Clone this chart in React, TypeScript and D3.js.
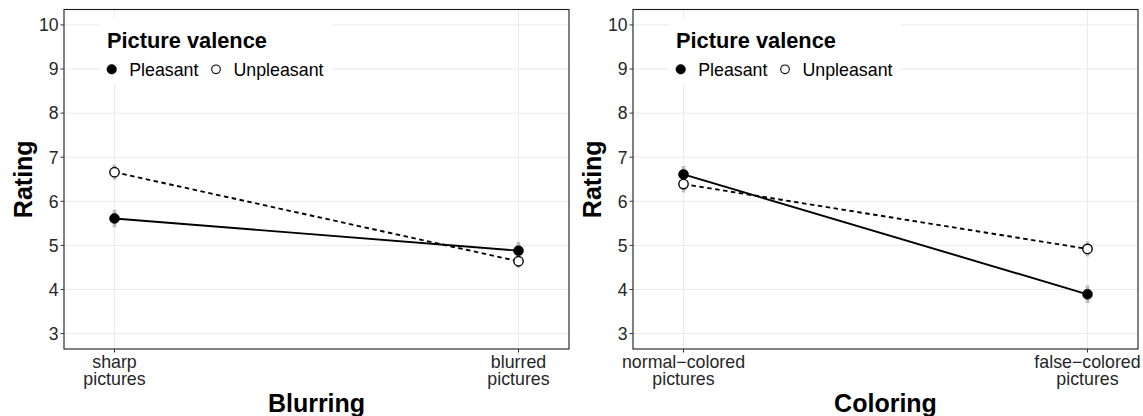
import React, { useRef, useEffect } from 'react';
import * as d3 from 'd3';

// picture valence groups (legend)
const valences = ['Pleasant', 'Unpleasant'];

// panel 1: blurring
const blurLevels = ['sharp\npictures', 'blurred\npictures'];
const blurPleasant = [5.61, 4.88];
const blurUnpleasant = [6.66, 4.64];
const blurPleasantSe = [0.2, 0.2];
const blurUnpleasantSe = [0.17, 0.15];

// panel 2: coloring
const colorLevels = ['normal\u2212colored\npictures', 'false\u2212colored\npictures'];
const colorPleasant = [6.61, 3.89];
const colorUnpleasant = [6.39, 4.92];
const colorPleasantSe = [0.19, 0.2];
const colorUnpleasantSe = [0.19, 0.17];

const yTicks = [3, 4, 5, 6, 7, 8, 9, 10];

const panels = [
  { title: 'Blurring', levels: blurLevels, pleasant: blurPleasant, unpleasant: blurUnpleasant, pSe: blurPleasantSe, uSe: blurUnpleasantSe, dx: 0 },
  { title: 'Coloring', levels: colorLevels, pleasant: colorPleasant, unpleasant: colorUnpleasant, pSe: colorPleasantSe, uSe: colorUnpleasantSe, dx: 569 },
];

const FONT = '"Liberation Sans", Arial, Helvetica, sans-serif';

const Chart = () => {
  const ref = useRef<SVGSVGElement>(null);

  useEffect(() => {
    const svg = d3.select(ref.current);
    svg.selectAll('*').remove();

    const left = 64, right = 569, top = 9.5, bottom = 349;

    const y = d3.scaleLinear().domain([2.65, 10.35]).range([bottom, top]);

    panels.forEach(p => {
      const g = svg.append('g').attr('transform', `translate(${p.dx},0)`);
      const x = d3.scalePoint<string>().domain(p.levels).range([left, right]).padding(0.125);

      // panel background + grid
      g.append('rect').attr('x', left).attr('y', top).attr('width', right - left).attr('height', bottom - top).attr('fill', '#fff');
      g.selectAll('line.gy').data(yTicks).join('line')
        .attr('x1', left).attr('x2', right)
        .attr('y1', d => y(d)).attr('y2', d => y(d))
        .attr('stroke', '#ebebeb').attr('stroke-width', 1);
      g.selectAll('line.gx').data(p.levels).join('line')
        .attr('x1', d => x(d)!).attr('x2', d => x(d)!)
        .attr('y1', top).attr('y2', bottom)
        .attr('stroke', '#ebebeb').attr('stroke-width', 1);

      // error bars
      const series = [
        { vals: p.pleasant, se: p.pSe, filled: true },
        { vals: p.unpleasant, se: p.uSe, filled: false },
      ];
      series.forEach(s => {
        g.selectAll(null).data(p.levels).join('line')
          .attr('x1', d => x(d)!).attr('x2', d => x(d)!)
          .attr('y1', (d, i) => y(s.vals[i] - s.se[i]))
          .attr('y2', (d, i) => y(s.vals[i] + s.se[i]))
          .attr('stroke', '#bdbdbd').attr('stroke-width', 3.6);
      });

      // lines
      series.forEach(s => {
        const line = d3.line<string>().x(d => x(d)!).y((d, i) => y(s.vals[i]));
        g.append('path').attr('d', line(p.levels))
          .attr('fill', 'none').attr('stroke', '#000').attr('stroke-width', 1.9)
          .attr('stroke-dasharray', s.filled ? null : '4.5,3.5');
      });

      // points
      series.forEach(s => {
        g.selectAll(null).data(p.levels).join('circle')
          .attr('cx', d => x(d)!).attr('cy', (d, i) => y(s.vals[i]))
          .attr('r', s.filled ? 5 : 4.7)
          .attr('fill', s.filled ? '#000' : '#fff')
          .attr('stroke', '#000').attr('stroke-width', s.filled ? 0.5 : 1.4);
      });

      // legend
      const lg = g.append('g');
      lg.append('rect').attr('x', 100).attr('y', 18).attr('width', 232).attr('height', 66).attr('fill', '#fff');
      lg.append('text').attr('x', 107).attr('y', 47.5).text('Picture valence')
        .attr('font-family', FONT).attr('font-weight', 'bold').attr('font-size', 21.8).attr('fill', '#000');
      const itemX = [111.7, 216];
      valences.forEach((v, i) => {
        lg.append('circle').attr('cx', itemX[i]).attr('cy', 69.3).attr('r', i === 0 ? 4.8 : 4.3)
          .attr('fill', i === 0 ? '#000' : '#fff').attr('stroke', '#000').attr('stroke-width', i === 0 ? 0.5 : 1.1);
        lg.append('text').attr('x', itemX[i] + 17.5).attr('y', 76).text(v)
          .attr('font-family', FONT).attr('font-size', 17.8).attr('fill', '#000');
      });

      // border
      g.append('rect').attr('x', left).attr('y', top).attr('width', right - left).attr('height', bottom - top)
        .attr('fill', 'none').attr('stroke', '#1a1a1a').attr('stroke-width', 1.1);

      // y axis
      g.selectAll('line.ty').data(yTicks).join('line')
        .attr('x1', left - 3.5).attr('x2', left).attr('y1', d => y(d)).attr('y2', d => y(d))
        .attr('stroke', '#333').attr('stroke-width', 1);
      g.selectAll('text.ty').data(yTicks).join('text')
        .attr('x', left - 5.5).attr('y', d => y(d)).attr('dy', '0.36em')
        .attr('text-anchor', 'end').attr('font-family', FONT).attr('font-size', 17.6).attr('fill', '#262626')
        .text(d => d);

      // x axis
      g.selectAll('line.tx').data(p.levels).join('line')
        .attr('x1', d => x(d)!).attr('x2', d => x(d)!).attr('y1', bottom).attr('y2', bottom + 3.5)
        .attr('stroke', '#333').attr('stroke-width', 1);
      p.levels.forEach(lv => {
        lv.split('\n').forEach((part, k) => {
          g.append('text').attr('text-anchor', 'middle').attr('font-family', FONT)
            .attr('font-size', 17.8).attr('fill', '#262626')
            .attr('x', x(lv)!).attr('y', 367.8 + k * 17.3).text(part);
        });
      });

      // axis titles
      g.append('text').attr('x', (left + right) / 2).attr('y', 411.5).attr('text-anchor', 'middle')
        .attr('font-family', FONT).attr('font-weight', 'bold').attr('font-size', 25).attr('fill', '#000')
        .text(p.title);
      g.append('text').attr('transform', `translate(32,${(top + bottom) / 2}) rotate(-90)`)
        .attr('text-anchor', 'middle')
        .attr('font-family', FONT).attr('font-weight', 'bold').attr('font-size', 25).attr('fill', '#000')
        .text('Rating');
    });

    return () => {
      svg.selectAll('*').remove();
    };
  }, []);

  return <svg ref={ref} width={1143} height={416} style={{ position: 'absolute', left: 0, top: 0, background: '#fff' }}></svg>;
};

export default function App() {
  return <Chart />;
}
